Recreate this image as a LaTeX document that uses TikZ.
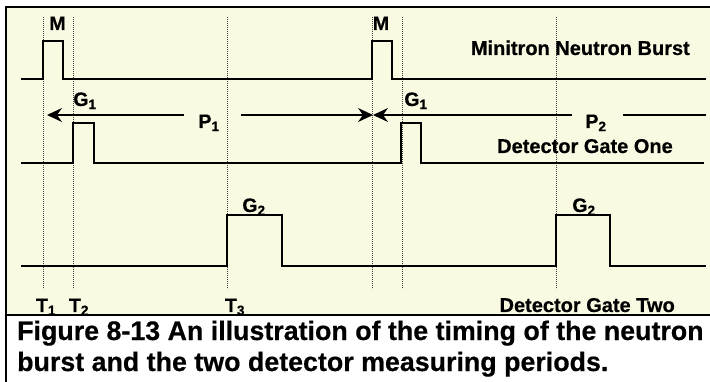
\documentclass[tikz,border=0pt]{standalone}
\usepackage{fontspec}
\setmainfont{Liberation Sans}[BoldFeatures={FakeBold=0.5}]
\usetikzlibrary{arrows.meta}
\definecolor{panel}{RGB}{250,250,226}
\tikzset{
  wave/.style={line width=1.5pt, line join=miter},
  guide/.style={line width=0.5pt, black!75, dash pattern=on 0.8pt off 1.2pt},
  per/.style={line width=1.5pt, -{Stealth[length=15pt,width=14pt,inset=5pt]}},
  perline/.style={line width=1.5pt},
  lab/.style={font=\fontsize{19.5}{21}\selectfont\bfseries, inner sep=0pt},
  big/.style={font=\fontsize{20}{22}\selectfont\bfseries, inner sep=0pt},
  captext/.style={font=\fontsize{26.8}{31}\selectfont\bfseries, inner sep=0pt, anchor=base west, align=left}
}
\begin{document}
\begin{tikzpicture}[x=1pt,y=-1pt]
\useasboundingbox (0,0) rectangle (710,382);
% panel
\fill[panel] (5,7) rectangle (710,315);
% guides
\foreach \gx in {43,73,227,372,402,556}
  \draw[guide] (\gx,17) -- (\gx,289);
% waveforms
\draw[wave] (21,79) -- (43,79) -- (43,41) -- (63,41) -- (63,79) -- (372,79) -- (372,41) -- (392,41) -- (392,79) -- (706,79);
\draw[wave] (21,163) -- (73,163) -- (73,123) -- (94,123) -- (94,163) -- (401,163) -- (401,123) -- (421,123) -- (421,163) -- (704,163);
\draw[wave] (21,266) -- (227,266) -- (227,215) -- (282,215) -- (282,266) -- (556,266) -- (556,215) -- (610,215) -- (610,266) -- (706,266);
% period arrows
\coordinate (a1s) at (184,115);
\coordinate (a1e) at (47,115);
\coordinate (a2s) at (241,115);
\coordinate (a2e) at (373,115);
\coordinate (a3s) at (572,115);
\coordinate (a3e) at (373,115);
\coordinate (a4s) at (623,115);
\coordinate (a4e) at (706,115);
\draw[per] (a1s) -- (a1e);
\draw[per] (a2s) -- (a2e);
\draw[per] (a3s) -- (a3e);
\draw[perline] (a4s) -- (a4e);
% labels
\node[lab, anchor=base] (m1) at (57.5,30) {M};
\node[lab, anchor=base] (m2) at (381,30) {M};
\node[lab, anchor=base] (g11) at (85,106) {G\textsubscript{1}};
\node[lab, anchor=base] (g12) at (416,106) {G\textsubscript{1}};
\node[lab, anchor=base] (p1) at (209,128) {P\textsubscript{1}};
\node[lab, anchor=base] (p2) at (596,128) {P\textsubscript{2}};
\node[lab, anchor=base] (g21) at (254,212) {G\textsubscript{2}};
\node[lab, anchor=base] (g22) at (584,212) {G\textsubscript{2}};
\node[lab, anchor=base] (t1) at (46,312) {T\textsubscript{1}};
\node[lab, anchor=base] (t2) at (79,312) {T\textsubscript{2}};
\node[lab, anchor=base] (t3) at (235,312) {T\textsubscript{3}};
\node[big, anchor=base east] (mnb) at (690,55) {Minitron Neutron Burst};
\node[big, anchor=base east] (dg1) at (673,153) {Detector Gate One};
\node[big, anchor=base east] (dg2) at (675,312) {Detector Gate Two};
% caption area
\fill[white] (5,315) rectangle (710,382);
\draw[line width=1.5pt] (5,7) -- (710,7);
\draw[line width=1.5pt] (5,315) -- (710,315);
\draw[line width=1.5pt] (6,7) -- (6,382);
\node[captext] (c1) at (17,340) {Figure 8-13 An illustration of the timing of the neutron};
\node[captext] (c2) at (17,371) {burst and the two detector measuring periods.};
\end{tikzpicture}
\end{document}
